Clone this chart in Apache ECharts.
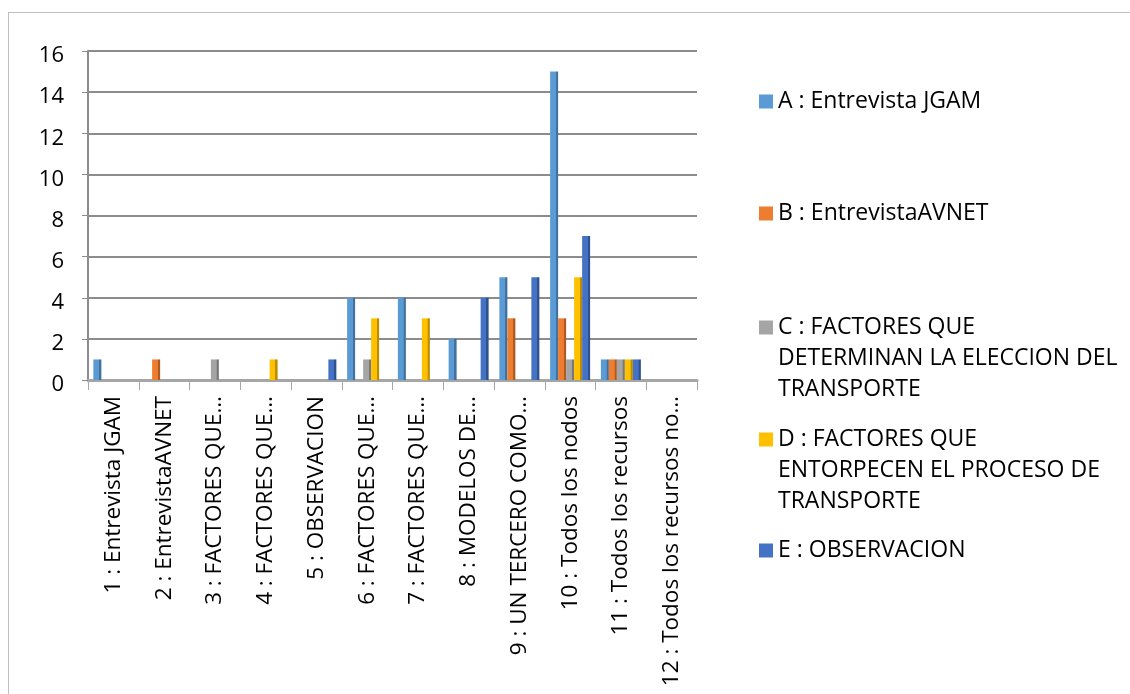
<!DOCTYPE html>
<html>
<head>
<meta charset="utf-8">
<script src="https://cdn.jsdelivr.net/npm/echarts@6/dist/echarts.min.js"></script>
<style>
  html, body { margin: 0; padding: 0; background: #fff; }
  #frame { position: absolute; left: 8px; top: 12px; width: 1200px; height: 800px;
           border-left: 1px solid #bfbfbf; border-top: 1px solid #bfbfbf; }
  #chart { position: absolute; left: 0; top: 0; width: 1130px; height: 694px; }
</style>
</head>
<body>
<div id="frame"></div>
<div id="chart"></div>
<script>
  // categorias (tal como aparecen, truncadas)
  var categories = [
    '1 : Entrevista JGAM', '2 : EntrevistaAVNET', '3 : FACTORES QUE…', '4 : FACTORES QUE…',
    '5 : OBSERVACION', '6 : FACTORES QUE…', '7 : FACTORES QUE…', '8 : MODELOS DE…',
    '9 : UN TERCERO COMO…', '10 : Todos los nodos', '11 : Todos los recursos', '12 : Todos los recursos no…'
  ];
  var seriesNames = [
    'A : Entrevista JGAM',
    'B : EntrevistaAVNET',
    'C : FACTORES QUE DETERMINAN LA ELECCION DEL TRANSPORTE',
    'D : FACTORES QUE ENTORPECEN EL PROCESO DE TRANSPORTE',
    'E : OBSERVACION'
  ];
  var legendLines = [
    'A : Entrevista JGAM',
    'B : EntrevistaAVNET',
    'C : FACTORES QUE\nDETERMINAN LA ELECCION DEL\nTRANSPORTE',
    'D : FACTORES QUE\nENTORPECEN EL PROCESO DE\nTRANSPORTE',
    'E : OBSERVACION'
  ];
  var valuesA = [1, 0, 0, 0, 0, 4, 4, 2, 5, 15, 1, 0];
  var valuesB = [0, 1, 0, 0, 0, 0, 0, 0, 3, 3, 1, 0];
  var valuesC = [0, 0, 1, 0, 0, 1, 0, 0, 0, 1, 1, 0];
  var valuesD = [0, 0, 0, 1, 0, 3, 3, 0, 0, 5, 1, 0];
  var valuesE = [0, 0, 0, 0, 1, 0, 0, 4, 5, 7, 1, 0];
  var yTicks = [0, 2, 4, 6, 8, 10, 12, 14, 16];

  var colors = ['#5b9bd5', '#ed7d31', '#a5a5a5', '#ffc000', '#4472c4'];
  var sides  = ['#41719c', '#ae5a21', '#787878', '#bc8c00', '#2f528f'];
  var allValues = [valuesA, valuesB, valuesC, valuesD, valuesE];
  var legendTops = [81, 193, 245, 357, 530];
  var fontFam = '"Open Sans", "Noto Sans", sans-serif';

  var serie = [];
  var legends = [];
  for (var i = 0; i < allValues.length; i++) {
    serie.push({
      name: seriesNames[i],
      type: 'bar',
      barWidth: 8,
      barGap: '0%',
      data: allValues[i],
      itemStyle: {
        color: new echarts.graphic.LinearGradient(0, 0, 1, 0, [
          { offset: 0, color: colors[i] },
          { offset: 0.7, color: colors[i] },
          { offset: 0.71, color: sides[i] },
          { offset: 1, color: sides[i] }
        ])
      }
    });
    // texto de varias lineas: dos lineas vacias delante para que el cuadro quede en la primera
    var txt = legendLines[i].indexOf('\n') >= 0 ? '\n\n' + legendLines[i] : legendLines[i];
    legends.push({
      data: [{ name: seriesNames[i], itemStyle: { color: colors[i] } }],
      left: 754,
      top: legendTops[i],
      icon: 'rect',
      itemWidth: 14,
      itemHeight: 14,
      itemGap: 0,
      selectedMode: false,
      formatter: (function (t) { return function () { return t; }; })(txt),
      textStyle: {
        fontSize: 23,
        color: '#000',
        fontFamily: fontFam,
        lineHeight: 31
      }
    });
  }

  var chart = echarts.init(document.getElementById('chart'));
  chart.setOption({
    animation: false,
    color: colors,
    legend: legends,
    grid: { left: 88, right: 433, top: 51, bottom: 314, containLabel: false },
    xAxis: {
      type: 'category',
      data: categories,
      axisLine: { show: true, lineStyle: { color: '#a6a6a6', width: 3 } },
      axisTick: { show: true, alignWithLabel: false, length: 10, lineStyle: { color: '#a6a6a6', width: 1 } },
      axisLabel: {
        rotate: 90,
        interval: 0,
        margin: 16,
        fontSize: 22.5,
        color: '#000',
        fontFamily: fontFam
      }
    },
    yAxis: {
      type: 'value',
      min: 0,
      max: 16,
      interval: 2,
      axisLine: { show: true, lineStyle: { color: '#8c8c8c', width: 2 } },
      axisTick: { show: true, length: 6, lineStyle: { color: '#8c8c8c' } },
      axisLabel: {
        margin: 24,
        fontSize: 22,
        color: '#000',
        fontFamily: fontFam,
        verticalAlign: 'top',
        lineHeight: 10,
        formatter: function (v) { return yTicks.indexOf(v) >= 0 ? String(v) : ''; }
      },
      splitLine: { show: true, lineStyle: { color: '#8c8c8c', width: 2 } }
    },
    series: serie
  });
</script>
</body>
</html>
